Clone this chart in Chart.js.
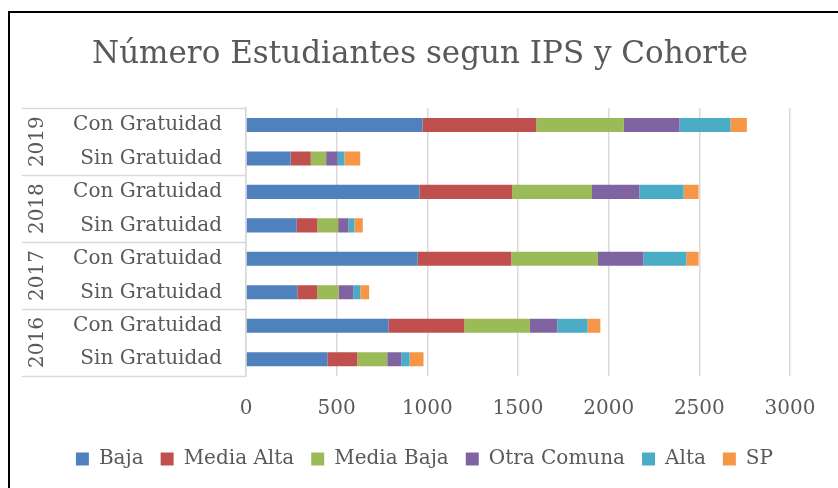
<!DOCTYPE html>
<html>
<head>
<meta charset="utf-8">
<script src="https://cdn.jsdelivr.net/npm/chart.js@4.4.1/dist/chart.umd.min.js"></script>
<style>
  html, body { margin: 0; padding: 0; background: #ffffff; }
  #frame { position: relative; width: 838px; height: 488px; overflow: hidden; }
  #frame::before { content: ""; position: absolute; left: 8px; top: 11px; right: -2px; bottom: -2px;
    border-left: 2px solid #000; border-top: 2px solid #000; pointer-events: none; }
  canvas { display: block; }
</style>
</head>
<body>
<div id="frame"><canvas id="chart" width="838" height="488"></canvas></div>
<script>
// Rows from top to bottom: each cohort year split by tuition-free status
const cohortYears = ['2019', '2018', '2017', '2016'];
const categories = [
  'Con Gratuidad', 'Sin Gratuidad',
  'Con Gratuidad', 'Sin Gratuidad',
  'Con Gratuidad', 'Sin Gratuidad',
  'Con Gratuidad', 'Sin Gratuidad'
];

// Student counts per IPS level, one value per row above
const baja       = [974, 246, 956, 280, 947, 283, 787, 449];
const mediaAlta  = [627, 111, 513, 114, 516, 110, 417, 165];
const mediaBaja  = [483,  85, 439, 114, 478, 117, 362, 165];
const otraComuna = [307,  64, 261,  57, 250,  81, 151,  77];
const alta       = [281,  37, 244,  33, 237,  39, 167,  46];
const sp         = [ 90,  87,  83,  46,  68,  49,  70,  77];

const xTicks = [0, 500, 1000, 1500, 2000, 2500, 3000];

const FONT = "'DejaVu Serif', serif";
const TEXT = '#595959';
const GRID = '#d9d9d9';

// Grouped category axis: year column and separators left of the plot
const cohortAxis = {
  id: 'cohortAxis',
  afterDraw(chart) {
    const { ctx, chartArea } = chart;
    const y = chart.scales.y;
    const step = y.getPixelForValue(1) - y.getPixelForValue(0);
    const x0 = 22;
    ctx.save();
    ctx.strokeStyle = GRID;
    ctx.lineWidth = 1.5;
    for (let g = 0; g <= cohortYears.length; g++) {
      const py = Math.round(y.getPixelForValue(g * 2) - step / 2) + 0.5;
      ctx.beginPath();
      ctx.moveTo(x0, py);
      ctx.lineTo(chartArea.left, py);
      ctx.stroke();
    }
    ctx.fillStyle = TEXT;
    ctx.font = '20px ' + FONT;
    ctx.textAlign = 'center';
    ctx.textBaseline = 'middle';
    cohortYears.forEach((yr, g) => {
      const cy = (y.getPixelForValue(g * 2) + y.getPixelForValue(g * 2 + 1)) / 2;
      ctx.save();
      ctx.translate(37.5, cy);
      ctx.rotate(-Math.PI / 2);
      ctx.fillText(yr, 0, 0);
      ctx.restore();
    });
    ctx.restore();
  }
};

const series = [
  ['Baja', baja, '#4F81BD'],
  ['Media Alta', mediaAlta, '#C0504D'],
  ['Media Baja', mediaBaja, '#9BBB59'],
  ['Otra Comuna', otraComuna, '#8064A2'],
  ['Alta', alta, '#4BACC6'],
  ['SP', sp, '#F79646']
];

const PAD_LEFT = 50;

new Chart(document.getElementById('chart'), {
  type: 'bar',
  data: {
    labels: categories,
    datasets: series.map(([label, data, color]) => ({
      label, data,
      backgroundColor: color,
      borderWidth: 0,
      barPercentage: 0.42,
      categoryPercentage: 1
    }))
  },
  options: {
    indexAxis: 'y',
    responsive: false,
    animation: false,
    layout: { padding: { left: PAD_LEFT, right: 48, top: 14, bottom: 9 } },
    scales: {
      x: {
        stacked: true,
        min: 0, max: 3000,
        afterBuildTicks(scale) { scale.ticks = xTicks.map(v => ({ value: v })); },
        afterFit(scale) { scale.height = 56; },
        border: { display: false },
        grid: { color: GRID, lineWidth: 1.5, drawTicks: false },
        ticks: {
          color: TEXT, font: { family: FONT, size: 20 }, padding: 21, maxRotation: 0,
          callback: v => String(v)
        }
      },
      y: {
        stacked: true,
        afterFit(scale) { scale.width = 246 - PAD_LEFT; },
        border: { display: true, color: GRID, width: 1.5 },
        grid: { display: false, drawTicks: false },
        ticks: { color: TEXT, font: { family: FONT, size: 20 }, padding: 24 }
      }
    },
    plugins: {
      title: {
        display: true,
        text: 'Número Estudiantes segun IPS y Cohorte',
        color: TEXT,
        font: { family: FONT, size: 31, weight: 'normal' },
        padding: { top: 22, bottom: 35 }
      },
      legend: {
        position: 'bottom',
        align: 'end',
        labels: {
          color: TEXT,
          font: { family: FONT, size: 20 },
          boxWidth: 13, boxHeight: 13,
          padding: 17
        }
      },
      tooltip: { enabled: false }
    }
  },
  plugins: [cohortAxis]
});
</script>
</body>
</html>
